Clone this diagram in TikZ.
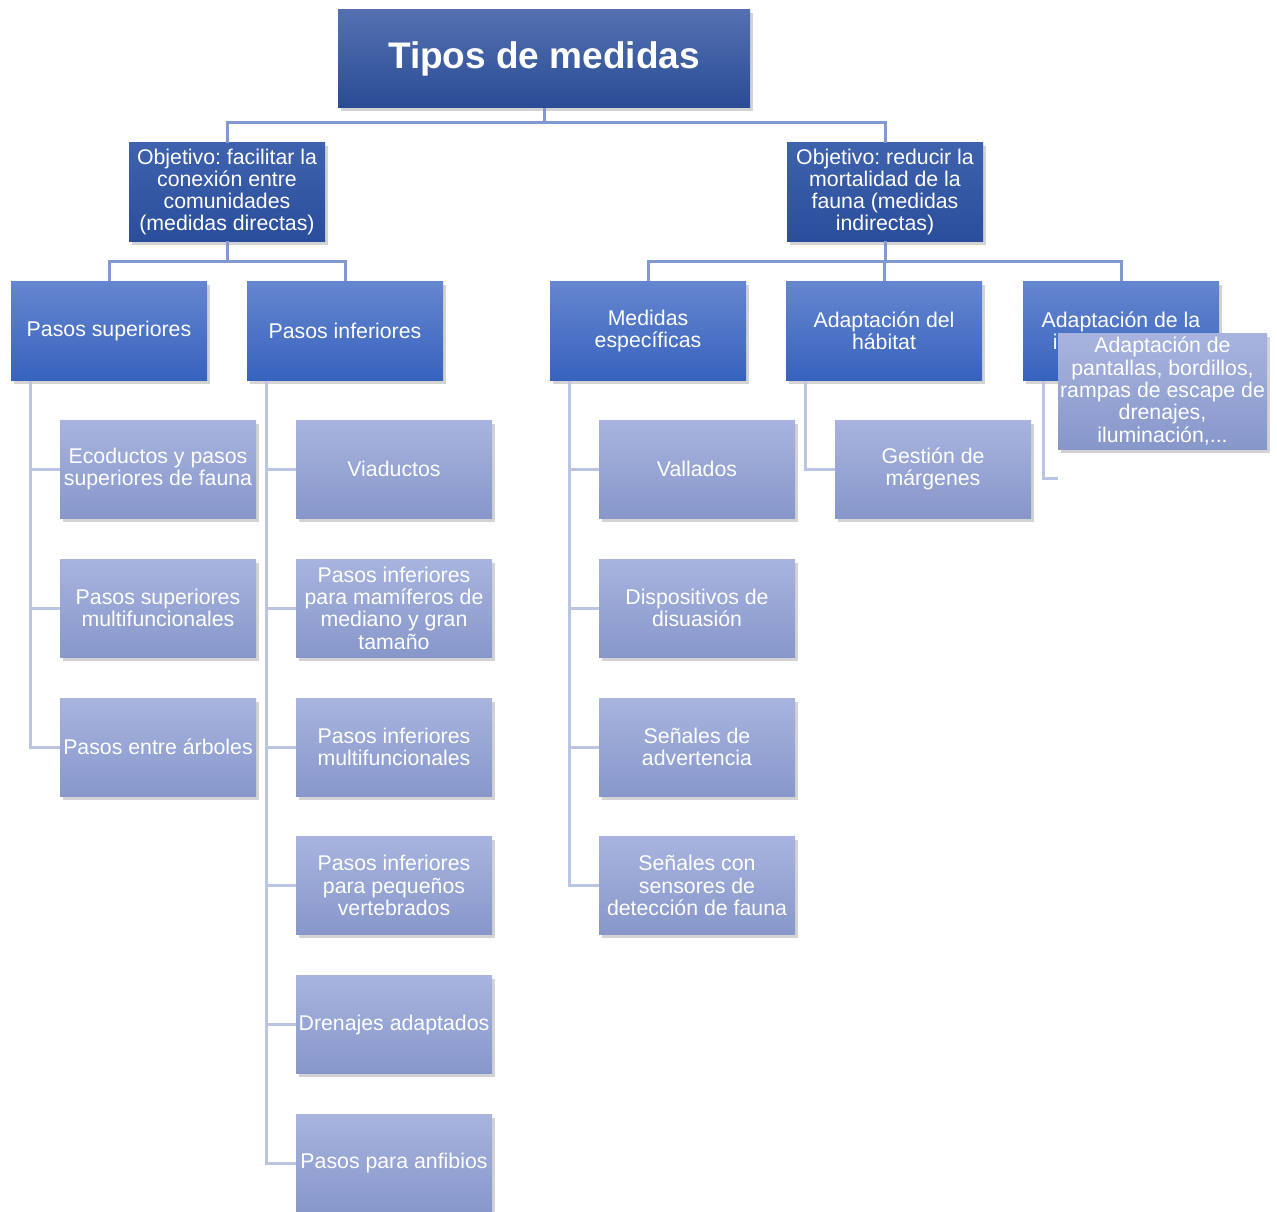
\documentclass[tikz,border=0pt]{standalone}
\usepackage{fontspec}
\setmainfont{Liberation Sans}
\usepackage{xcolor}
\usetikzlibrary{shadows,positioning}
\frenchspacing

\definecolor{titletop}{HTML}{5470B0}
\definecolor{titlebot}{HTML}{294C95}
\definecolor{objtop}{HTML}{3F62AE}
\definecolor{objbot}{HTML}{2B4E9C}
\definecolor{midtop}{HTML}{6586CF}
\definecolor{midbot}{HTML}{3762BD}
\definecolor{leaftop}{HTML}{A8B4DF}
\definecolor{leafbot}{HTML}{8797CA}
\definecolor{linetop}{HTML}{8199D0}
\definecolor{linesub}{HTML}{BAC5E4}

\begin{document}
\begin{tikzpicture}[x=1pt, y=-1pt,
                    box/.style={rectangle, inner sep=0pt, text=white, align=center,
                    minimum width=196pt, minimum height=98pt,
                    font=\fontsize{21.3}{22.3}\selectfont,
                    drop shadow={shadow xshift=2.5pt, shadow yshift=-3.5pt, opacity=0.35}},
                    titlebox/.style={box, top color=titletop, bottom color=titlebot,
                    minimum width=412pt, font=\fontsize{37}{40}\selectfont\bfseries},
                    objbox/.style={box, top color=objtop, bottom color=objbot},
                    midbox/.style={box, top color=midtop, bottom color=midbot,
                    minimum height=99pt},
                    leafbox/.style={box, top color=leaftop, bottom color=leafbot},
                    topline/.style={draw=linetop, line width=3pt},
                    subline/.style={draw=linesub, line width=3pt}]
    \useasboundingbox (0,0) rectangle (1277,1212);

    % root and objectives
    \node[titlebox](tipos) at (544,59) {Tipos de medidas};
    \node[objbox](objcon) at (227,192) {Objetivo: facilitar la\\conexión entre\\comunidades\\(medidas directas)};
    \node[objbox](objmor) at (885,192) {Objetivo: reducir la\\mortalidad de la\\fauna (medidas\\indirectas)};

    % second level
    \node[midbox](psup) at (109,331) {Pasos superiores};
    \node[midbox](pinf) at (345,331) {Pasos inferiores};
    \node[midbox](mesp) at (648,331) {Medidas\\específicas};
    \node[midbox](ahab) at (884,331) {Adaptación del\\hábitat};
    \node[midbox](ainf) at (1121,331) {Adaptación de la\\infraestructura};

    % leaves
    \node[leafbox](psup1) at (158,469) {Ecoductos y pasos\\superiores de fauna};
    \node[leafbox](psup2) at (158,608) {Pasos superiores\\multifuncionales};
    \node[leafbox](psup3) at (158,747) {Pasos entre árboles};

    \node[leafbox](pinf1) at (394,469) {Viaductos};
    \node[leafbox](pinf2) at (394,608) {Pasos inferiores\\para mamíferos de\\mediano y gran\\tamaño};
    \node[leafbox](pinf3) at (394,747) {Pasos inferiores\\multifuncionales};
    \node[leafbox](pinf4) at (394,885.5) {Pasos inferiores\\para pequeños\\vertebrados};
    \node[leafbox](pinf5) at (394,1024.5) {Drenajes adaptados};
    \node[leafbox](pinf6) at (394,1163) {Pasos para anfibios};

    \node[leafbox](mesp1) at (697,469) {Vallados};
    \node[leafbox](mesp2) at (697,608) {Dispositivos de\\disuasión};
    \node[leafbox](mesp3) at (697,747) {Señales de\\advertencia};
    \node[leafbox](mesp4) at (697,885.5) {Señales con\\sensores de\\detección de fauna};

    \node[leafbox](ahab1) at (933,469) {Gestión de\\márgenes};

    \node[leafbox, minimum width=209pt, minimum height=116pt](ainf1) at (1162.5,391)
        {Adaptación de\\pantallas, bordillos,\\rampas de escape de\\drenajes,\\iluminación,...};
    \coordinate (ainfend) at (1058,478);

    % connectors
    \draw[topline] (tipos.south) -- ++(0,-14pt) -| (objcon.north);
    \draw[topline] (tipos.south) -- ++(0,-14pt) -| (objmor.north);
    \draw[topline] (objcon.south) -- ++(0,-20pt) -| (psup.north);
    \draw[topline] (objcon.south) -- ++(0,-20pt) -| (pinf.north);
    \draw[topline] (objmor.south) -- ++(0,-20pt) -| (mesp.north);
    \draw[topline] (objmor.south) -- ++(0,-20pt) -| (ahab.north);
    \draw[topline] (objmor.south) -- ++(0,-20pt) -| (ainf.north);

    \draw[subline] ([xshift=20pt]psup.south west) |- (psup1.west);
    \draw[subline] ([xshift=20pt]psup.south west) |- (psup2.west);
    \draw[subline] ([xshift=20pt]psup.south west) |- (psup3.west);
    \draw[subline] ([xshift=20pt]pinf.south west) |- (pinf1.west);
    \draw[subline] ([xshift=20pt]pinf.south west) |- (pinf2.west);
    \draw[subline] ([xshift=20pt]pinf.south west) |- (pinf3.west);
    \draw[subline] ([xshift=20pt]pinf.south west) |- (pinf4.west);
    \draw[subline] ([xshift=20pt]pinf.south west) |- (pinf5.west);
    \draw[subline] ([xshift=20pt]pinf.south west) |- (pinf6.west);
    \draw[subline] ([xshift=20pt]mesp.south west) |- (mesp1.west);
    \draw[subline] ([xshift=20pt]mesp.south west) |- (mesp2.west);
    \draw[subline] ([xshift=20pt]mesp.south west) |- (mesp3.west);
    \draw[subline] ([xshift=20pt]mesp.south west) |- (mesp4.west);
    \draw[subline] ([xshift=20pt]ahab.south west) |- (ahab1.west);
    \draw[subline] ([xshift=21pt]ainf.south west) |- (ainfend);
\end{tikzpicture}
\end{document}
